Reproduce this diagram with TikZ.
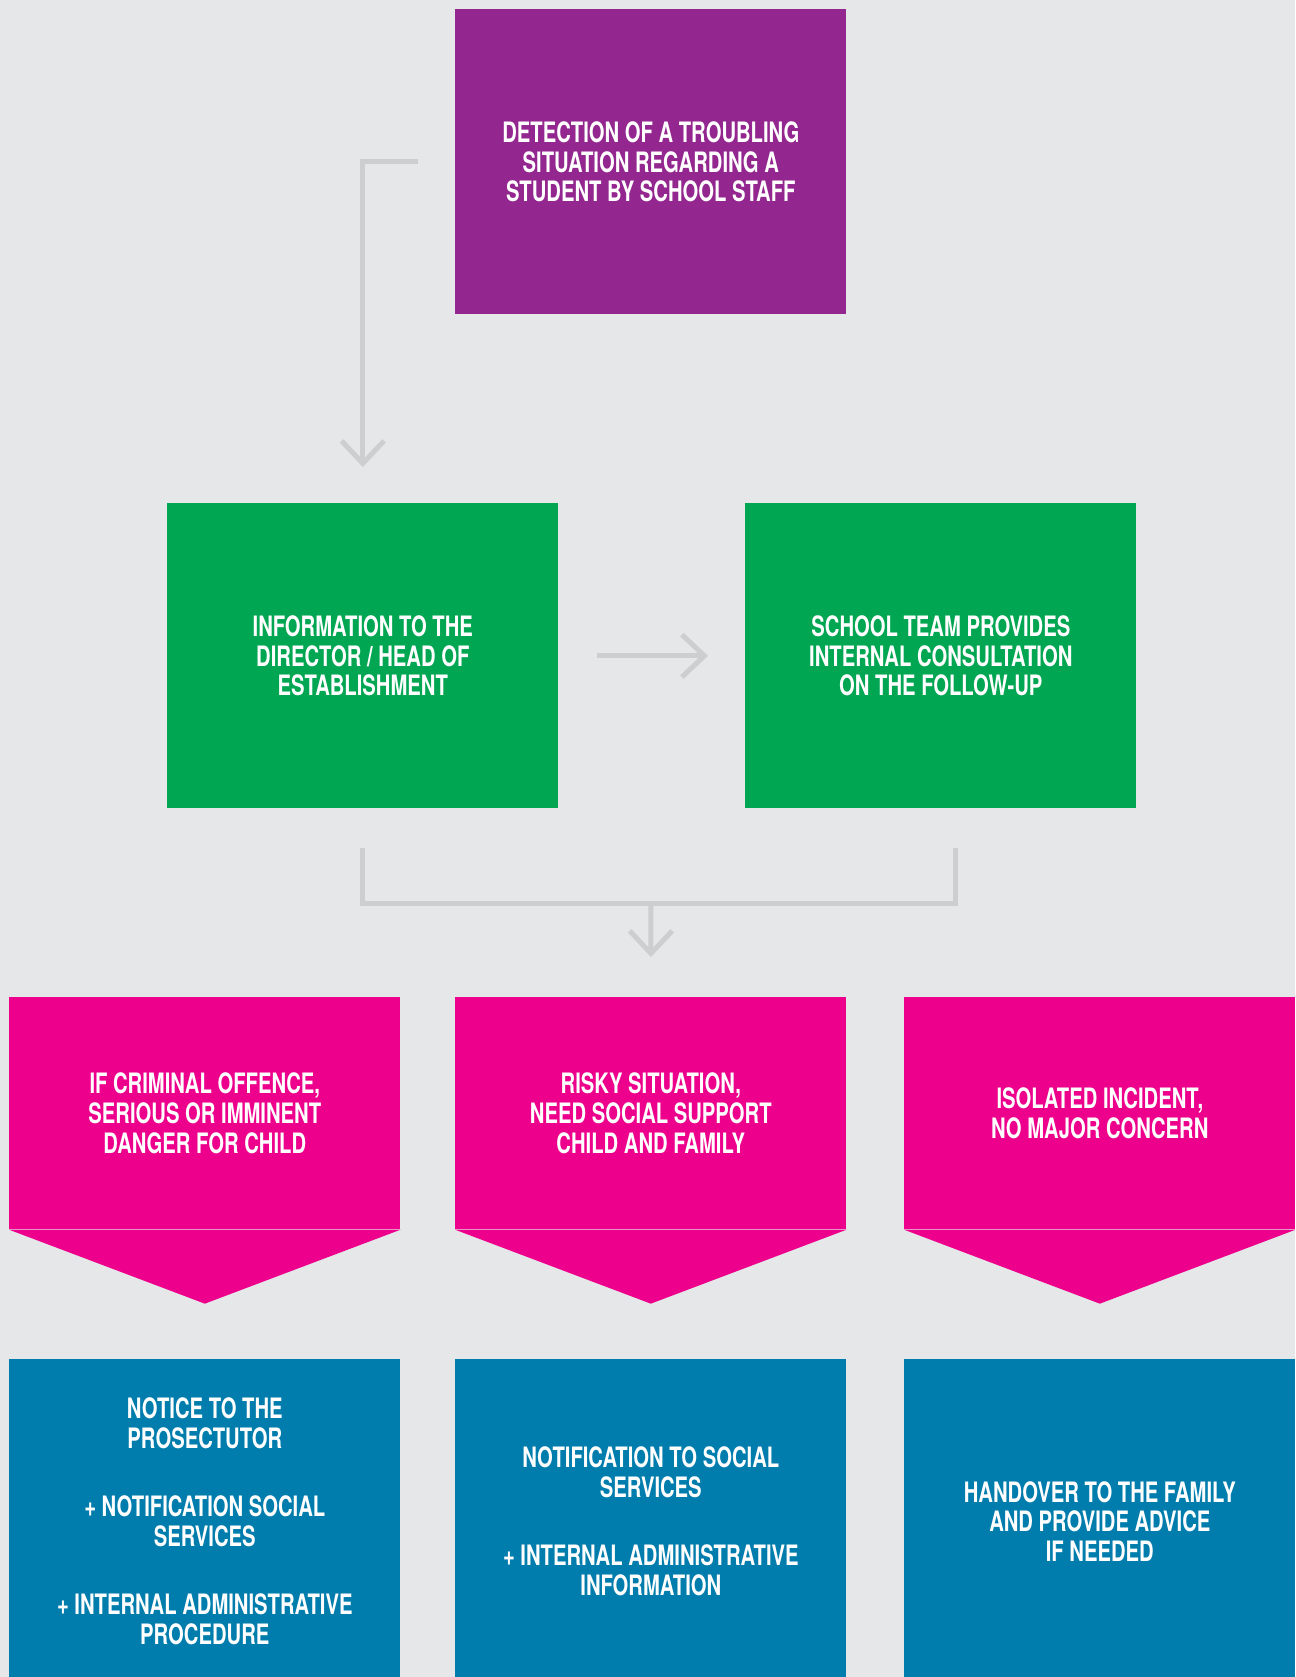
\documentclass[tikz,border=0pt]{standalone}
\usepackage{fontspec}
\newfontfamily\condfont[FakeStretch=0.72]{TeX Gyre Heros}
\usetikzlibrary{calc,arrows.meta}
\definecolor{bggray}{HTML}{E6E7E9}
\definecolor{linegray}{HTML}{CDCED0}
\definecolor{detectpurple}{HTML}{93278F}
\definecolor{stepgreen}{HTML}{00A651}
\definecolor{casepink}{HTML}{EC008C}
\definecolor{actionblue}{HTML}{007DAD}

\begin{document}
\begin{tikzpicture}[x=0.02cm,y=-0.02cm]
  %
  % Definitions
  %
  \tikzset{
    box/.style={rectangle, anchor=north west, inner sep=0pt, align=center,
      text=white, minimum width=7.82cm,
      font=\condfont\bfseries\fontsize{16}{16.9}\selectfont},
    link/.style={draw=linegray, line width=0.1cm},
    flow/.style={link, -{Straight Barb[length=0.45cm, width=0.85cm]}},
  }
  \pgfmathsetmacro{\xa}{9};%
  \pgfmathsetmacro{\xb}{455};%
  \pgfmathsetmacro{\xc}{904};%
  \pgfmathsetmacro{\xgl}{167};%
  \pgfmathsetmacro{\xgr}{745};%

  \pgfmathsetmacro{\ytop}{9};%
  \pgfmathsetmacro{\ygreen}{503};%
  \pgfmathsetmacro{\ypink}{997};%
  \pgfmathsetmacro{\yblue}{1359};%

  % Background
  \fill[bggray] (0,0) rectangle (1295,1677);
  \clip (0,0) rectangle (1295,1677);

  %
  % Boxes
  %
  % Detection
  \node[box, fill=detectpurple, minimum height=6.1cm] (detect) at (\xb,\ytop)
  {DETECTION OF A TROUBLING\\SITUATION REGARDING A\\STUDENT BY SCHOOL STAFF};

  % Director and team
  \node[box, fill=stepgreen, minimum height=6.1cm] (info) at (\xgl,\ygreen)
  {INFORMATION TO THE\\DIRECTOR / HEAD OF\\ESTABLISHMENT};
  \node[box, fill=stepgreen, minimum height=6.1cm] (team) at (\xgr,\ygreen)
  {SCHOOL TEAM PROVIDES\\INTERNAL CONSULTATION\\ON THE FOLLOW-UP};

  % Cases
  \node[box, fill=casepink, minimum height=4.64cm] (offence) at (\xa,\ypink)
  {IF CRIMINAL OFFENCE,\\SERIOUS OR IMMINENT\\DANGER FOR CHILD};
  \node[box, fill=casepink, minimum height=4.64cm] (risky) at (\xb,\ypink)
  {RISKY SITUATION,\\NEED SOCIAL SUPPORT\\CHILD AND FAMILY};
  \node[box, fill=casepink, minimum height=4.64cm] (isolated) at (\xc,\ypink)
  {ISOLATED INCIDENT,\\NO MAJOR CONCERN};
  \foreach \n in {offence,risky,isolated}{
    \fill[casepink] (\n.south west) -- (\n.south east)
    -- ($(\n.south)+(0,74)$) -- cycle;
  }

  % Actions
  \node[box, fill=actionblue, minimum height=6.48cm] (notice) at (\xa,\yblue)
  {NOTICE TO THE\\PROSECTUTOR\\[22pt]+ NOTIFICATION SOCIAL\\SERVICES\\[22pt]+ INTERNAL ADMINISTRATIVE\\PROCEDURE};
  \node[box, fill=actionblue, minimum height=6.48cm] (notif) at (\xb,\yblue)
  {NOTIFICATION TO SOCIAL\\SERVICES\\[22pt]+ INTERNAL ADMINISTRATIVE\\INFORMATION};
  \node[box, fill=actionblue, minimum height=6.48cm] (handover) at (\xc,\yblue)
  {HANDOVER TO THE FAMILY\\AND PROVIDE ADVICE\\IF NEEDED};

  %
  % Connectors
  %
  \draw[flow, shorten <=0.74cm, shorten >=0.72cm] (detect.west) -| (info.north);
  \draw[flow, shorten <=0.76cm, shorten >=0.74cm] (info.east) -- (team.west);

  \coordinate (merge) at (651,903);
  \coordinate (teamout) at ($(team.south)+(15,0)$);
  \draw[link, shorten <=0.78cm] (info.south) |- (merge);
  \draw[link, shorten <=0.78cm] (teamout) |- (merge);
  \draw[flow, shorten >=0.8cm] (merge) -- (risky.north);

\end{tikzpicture}
\end{document}
